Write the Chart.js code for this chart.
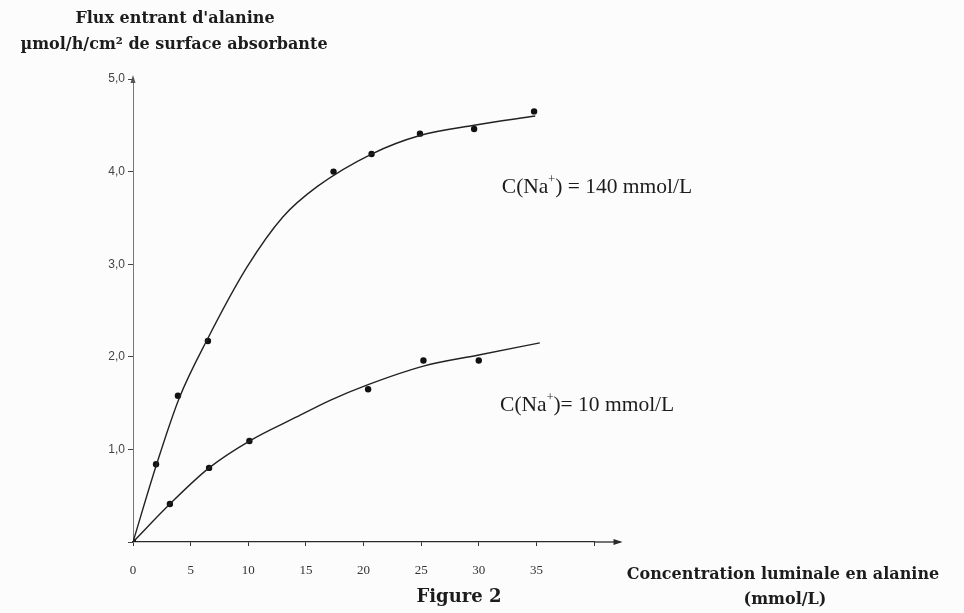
<!DOCTYPE html>
<html><head><meta charset="utf-8">
<script src="https://cdn.jsdelivr.net/npm/chart.js@4.4.0/dist/chart.umd.min.js"></script>
<style>html,body{margin:0;padding:0;background:#fcfcfc;}canvas{display:block;}</style>
</head><body>
<canvas id="c" width="964" height="613"></canvas>
<script>
// Measured points, C(Na+) = 140 mmol/L
const concHigh = [0, 2.0, 3.9, 6.5, 17.4, 20.7, 24.9, 29.6, 34.8];
const fluxHigh = [0, 0.84, 1.58, 2.17, 4.00, 4.19, 4.41, 4.46, 4.65];
// Measured points, C(Na+) = 10 mmol/L
const concLow = [0, 3.2, 6.6, 10.1, 20.4, 25.2, 30.0];
const fluxLow = [0, 0.41, 0.80, 1.09, 1.65, 1.96, 1.96];
// Hand-drawn fitted curves
const curveHighX = [0, 2.0, 4.0, 6.5, 9.9, 13.0, 16.0, 20.7, 24.9, 29.6, 34.9];
const curveHighY = [0, 0.82, 1.55, 2.20, 2.97, 3.51, 3.84, 4.19, 4.39, 4.50, 4.60];
const curveLowX = [0, 3.2, 6.6, 10.1, 14.2, 17.1, 20.4, 25.2, 30.0, 35.3];
const curveLowY = [0, 0.41, 0.80, 1.09, 1.35, 1.53, 1.70, 1.90, 2.02, 2.15];
// Axis ticks
const xTicks = [0, 5, 10, 15, 20, 25, 30, 35, 40];
const xTickLabels = ['0', '5', '10', '15', '20', '25', '30', '35', ''];
const yTicks = [0, 1, 2, 3, 4, 5];
const yTickLabels = ['', '1,0', '2,0', '3,0', '4,0', '5,0'];
// Texts
const yTitle = ["Flux entrant d'alanine", "µmol/h/cm² de surface absorbante"];
const xTitle = ["Concentration luminale en alanine", "(mmol/L)"];
const figureLabel = "Figure 2";
const seriesLabels = [["C(Na", "+", ") = 140 mmol/L"], ["C(Na", "+", ")= 10 mmol/L"]];

const pts = (xs, ys) => xs.map((x, i) => ({x: x, y: ys[i]}));
const INK = '#1c1c1c';

const decor = {
  id: 'decor',
  afterDraw(chart) {
    const ctx = chart.ctx;
    const xs = chart.scales.x, ys = chart.scales.y;
    const y0 = ys.getPixelForValue(0), x0 = xs.getPixelForValue(0);
    ctx.save();
    // x axis extension + arrow
    const xEnd = xs.getPixelForValue(42.3);
    ctx.strokeStyle = '#2a2a2a'; ctx.lineWidth = 1.3;
    ctx.beginPath(); ctx.moveTo(xs.right, y0); ctx.lineTo(xEnd, y0); ctx.stroke();
    ctx.fillStyle = '#2a2a2a';
    ctx.beginPath(); ctx.moveTo(xEnd + 2, y0); ctx.lineTo(xEnd - 7, y0 - 3); ctx.lineTo(xEnd - 7, y0 + 3); ctx.closePath(); ctx.fill();
    // y axis arrow
    const yTop = ys.getPixelForValue(5);
    ctx.fillStyle = '#555';
    ctx.beginPath(); ctx.moveTo(x0, yTop - 4); ctx.lineTo(x0 - 2.5, yTop + 4); ctx.lineTo(x0 + 2.5, yTop + 4); ctx.closePath(); ctx.fill();
    // titles
    ctx.fillStyle = INK; ctx.textBaseline = 'middle'; ctx.textAlign = 'center';
    ctx.font = 'bold 16px "DejaVu Serif"';
    ctx.fillText(yTitle[0], 175, 19);
    ctx.fillText(yTitle[1], 174, 45);
    ctx.fillText(xTitle[0], 783, 575);
    ctx.fillText(xTitle[1], 785, 600);
    ctx.font = 'bold 18px "DejaVu Serif"';
    ctx.fillText(figureLabel, 459, 597);
    // series labels
    ctx.textAlign = 'left';
    const lab = (parts, xv, yv) => {
      let px = xs.getPixelForValue(xv), py = ys.getPixelForValue(yv);
      ctx.font = '21.5px "Liberation Serif"';
      ctx.fillText(parts[0], px, py); px += ctx.measureText(parts[0]).width;
      ctx.font = '12px "Liberation Serif"';
      ctx.fillText(parts[1], px, py - 7); px += ctx.measureText(parts[1]).width;
      ctx.font = '21.5px "Liberation Serif"';
      ctx.fillText(parts[2], px, py);
    };
    lab(seriesLabels[0], 32.0, 3.83);
    lab(seriesLabels[1], 31.85, 1.48);
    ctx.restore();
  }
};

new Chart(document.getElementById('c'), {
  type: 'scatter',
  data: {
    datasets: [
      {data: pts(curveHighX, curveHighY), showLine: true, pointRadius: 0, borderColor: '#222', borderWidth: 1.4, cubicInterpolationMode: 'monotone', fill: false},
      {data: pts(curveLowX, curveLowY), showLine: true, pointRadius: 0, borderColor: '#222', borderWidth: 1.4, cubicInterpolationMode: 'monotone', fill: false},
      {data: pts(concHigh, fluxHigh), showLine: false, pointRadius: 3.2, backgroundColor: '#111', borderWidth: 0},
      {data: pts(concLow, fluxLow), showLine: false, pointRadius: 3.2, backgroundColor: '#111', borderWidth: 0}
    ]
  },
  options: {
    responsive: false, animation: false, devicePixelRatio: 1,
    layout: {padding: {left: 88, top: 79, right: 370, bottom: 11}},
    plugins: {legend: {display: false}, tooltip: {enabled: false}},
    scales: {
      x: {
        type: 'linear', min: 0, max: 40,
        afterBuildTicks: s => { s.ticks = xTicks.map(v => ({value: v})); },
        afterFit: s => { s.height = 60; },
        ticks: {callback: (v) => xTickLabels[xTicks.indexOf(v)], font: {family: 'Liberation Serif', size: 13}, color: '#333', padding: 17, maxRotation: 0, autoSkip: false},
        grid: {drawOnChartArea: false, drawTicks: true, tickLength: 4, color: '#333', lineWidth: 1},
        border: {display: true, color: '#2a2a2a', width: 1.3}
      },
      y: {
        type: 'linear', min: 0, max: 5,
        afterBuildTicks: s => { s.ticks = yTicks.map(v => ({value: v})); },
        afterFit: s => { s.width = 45; },
        ticks: {callback: (v) => yTickLabels[yTicks.indexOf(v)], font: {family: 'Liberation Sans', size: 12}, color: '#444', padding: 3, autoSkip: false},
        grid: {drawOnChartArea: false, drawTicks: true, tickLength: 5, color: '#444', lineWidth: 1},
        border: {display: true, color: '#777', width: 1, dash: [4, 2]}
      }
    }
  },
  plugins: [decor]
});
</script>
</body></html>
